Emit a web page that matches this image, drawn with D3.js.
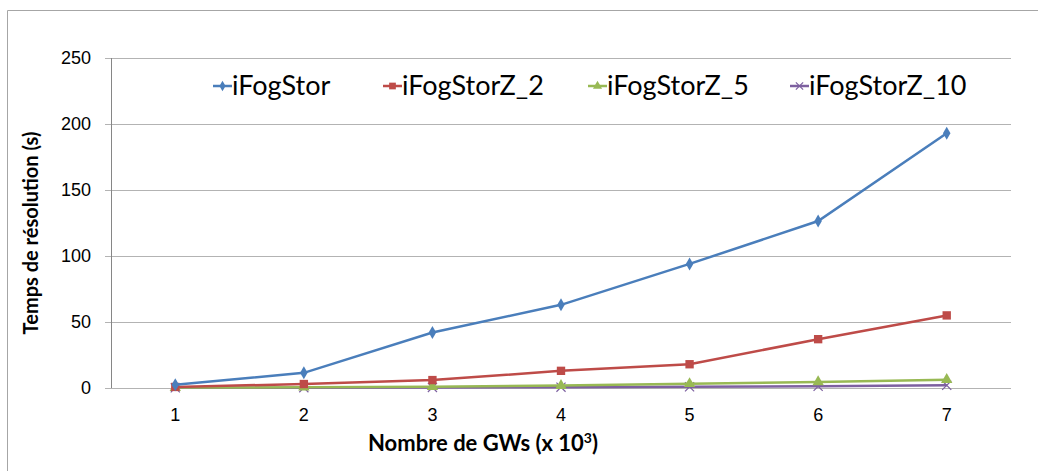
<!DOCTYPE html>
<html>
<head>
<meta charset="utf-8">
<script src="https://cdn.jsdelivr.net/npm/d3@7"></script>
<style>
body{margin:0;background:#fff;}
svg{font-family:"Lato","Open Sans",sans-serif;}
.grid line{stroke:#b3b3b3;stroke-width:1;}
.tick text{fill:#000;}
</style>
</head>
<body>
<svg width="1038" height="471"></svg>
<script>
//values
var gws = [1,2,3,4,5,6,7]
var yTicks = [0,50,100,150,200,250]
var iFogStor = [2.5,11.5,42,63,94,126.5,193]
var iFogStorZ_2 = [0.8,3,6,13,18,37,55]
var iFogStorZ_5 = [0.3,0.5,1,1.8,3.2,4.6,6.3]
var iFogStorZ_10 = [0.1,0.2,0.4,0.6,0.9,1.3,2]

var series = [
    {name:"iFogStor",values:iFogStor,color:"#4a7ebb",shape:"diamond",legX:213},
    {name:"iFogStorZ_2",values:iFogStorZ_2,color:"#be4b48",shape:"square",legX:383},
    {name:"iFogStorZ_5",values:iFogStorZ_5,color:"#98b954",shape:"triangle",legX:588},
    {name:"iFogStorZ_10",values:iFogStorZ_10,color:"#7d60a0",shape:"cross",legX:790}
]

var margins = {left:111,top:58}
var graph = {width:900,height:330}

var svg = d3.select("svg")

//outer chart frame
svg.append("path")
    .attr("d","M7.5,471 V10.5 H1038")
    .attr("fill","none")
    .attr("stroke","#a6a6a6")
    .attr("stroke-width",1)

var xScale = d3.scaleBand()
    .domain(gws)
    .range([0,graph.width])

var yScale = d3.scaleLinear()
    .domain([0,250])
    .range([graph.height,0])

var target = svg.append("g")
    .attr("transform","translate("+margins.left+","+margins.top+")")

//gridlines
target.append("g")
    .classed("grid",true)
    .selectAll("line")
    .data(yTicks)
    .enter()
    .append("line")
    .attr("x1",-6)
    .attr("x2",graph.width)
    .attr("y1",function(d){return Math.round(yScale(d))+0.5})
    .attr("y2",function(d){return Math.round(yScale(d))+0.5})

//y axis
var yAxis = d3.axisLeft(yScale).tickValues(yTicks).tickSize(0).tickPadding(20)
var yg = target.append("g").call(yAxis)
yg.select(".domain").remove()
yg.selectAll("text").attr("font-size",18)
target.append("line")
    .attr("x1",0.5).attr("x2",0.5)
    .attr("y1",0).attr("y2",graph.height)
    .attr("stroke","#868686")

//x axis
var xAxis = d3.axisBottom(xScale).tickSize(0).tickPadding(20)
var xg = target.append("g")
    .attr("transform","translate(0,"+graph.height+")")
    .call(xAxis)
xg.select(".domain").remove()
xg.selectAll("text").attr("font-size",18)

var cx = function(i){return xScale(gws[i])+xScale.bandwidth()/2}

var line = d3.line()
    .x(function(d,i){return cx(i)})
    .y(function(d){return yScale(d)})

var symbolFor = function(shape,size)
{
    if(shape=="diamond") return d3.symbol().type(d3.symbolDiamond).size(size*0.7)()
    if(shape=="square") return d3.symbol().type(d3.symbolSquare).size(size)()
    if(shape=="triangle") return d3.symbol().type(d3.symbolTriangle).size(size*0.8)()
    return d3.symbol().type(d3.symbolTimes).size(size*0.8)()
}

//draw the lines, last series first so blue is on top
series.slice().reverse().forEach(function(s)
{
    var g = target.append("g")
    g.append("path")
        .datum(s.values)
        .attr("d",line)
        .attr("fill","none")
        .attr("stroke",s.color)
        .attr("stroke-width",2.5)
    g.selectAll("path.m")
        .data(s.values)
        .enter()
        .append("path")
        .classed("m",true)
        .attr("transform",function(d,i){return "translate("+cx(i)+","+yScale(d)+")"})
        .attr("d",symbolFor(s.shape,70))
        .attr("fill",s.shape=="cross"?"none":s.color)
        .attr("stroke",s.color)
        .attr("stroke-width",s.shape=="cross"?1.2:0)
})

//legend
var legend = svg.append("g")
series.forEach(function(s)
{
    var e = legend.append("g").attr("transform","translate("+s.legX+",86)")
    e.append("line")
        .attr("x1",0).attr("x2",19)
        .attr("stroke",s.color).attr("stroke-width",2.5)
    e.append("path")
        .attr("transform","translate(9.5,0)")
        .attr("d",symbolFor(s.shape,45))
        .attr("fill",s.shape=="cross"?"none":s.color)
        .attr("stroke",s.color)
        .attr("stroke-width",s.shape=="cross"?1.2:0)
    e.append("text")
        .text(s.name)
        .attr("x",19)
        .attr("y",9)
        .attr("font-size",27)
})

//axis titles
var xt = svg.append("text")
    .attr("x",483)
    .attr("y",451)
    .attr("text-anchor","middle")
    .attr("font-size",22)
    .attr("font-weight","bold")
xt.append("tspan").text("Nombre de GWs (x 10")
xt.append("tspan").text("3").attr("font-size",14).attr("dy",-8)
xt.append("tspan").text(")").attr("dy",8)

svg.append("text")
    .text("Temps de résolution (s)")
    .attr("transform","translate(38,233) rotate(-90)")
    .attr("text-anchor","middle")
    .attr("font-size",20)
    .attr("font-weight","bold")
</script>
</body>
</html>
